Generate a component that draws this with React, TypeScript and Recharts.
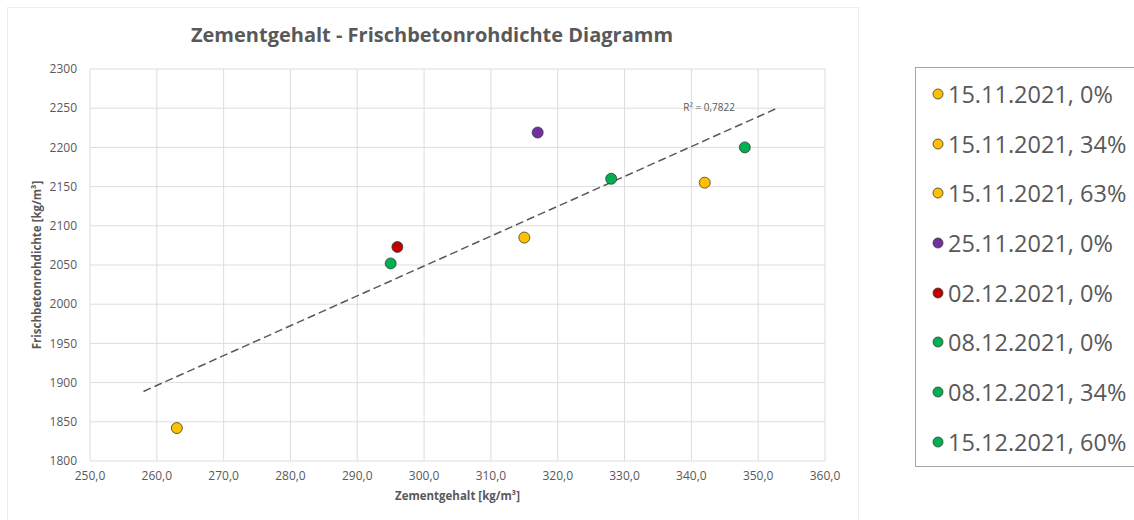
import React from 'react';
import {
  ScatterChart,
  Scatter,
  XAxis,
  YAxis,
  CartesianGrid,
  Legend,
  ReferenceDot,
  Label,
} from 'recharts';

// Measurement series: one point per mix (date, replacement share)
const seriesNames = [
  '15.11.2021, 0%',
  '15.11.2021, 34%',
  '15.11.2021, 63%',
  '25.11.2021, 0%',
  '02.12.2021, 0%',
  '08.12.2021, 0%',
  '08.12.2021, 34%',
  '15.12.2021, 60%',
];
const zementgehalt = [263, 315, 342, 317, 296, 295, 328, 348];
const rohdichte = [1842, 2085, 2155, 2219, 2073, 2052, 2160, 2200];
const seriesColors = [
  '#FFC000',
  '#FFC000',
  '#FFC000',
  '#7030A0',
  '#C00000',
  '#00B050',
  '#00B050',
  '#00B050',
];

const xTicks = [250, 260, 270, 280, 290, 300, 310, 320, 330, 340, 350, 360];
const yTicks = [1800, 1850, 1900, 1950, 2000, 2050, 2100, 2150, 2200, 2250, 2300];

// Linear trend (least squares), extended 5 units backward and forward
const trendRange = [258, 353];
const rSquaredText = 'R² = 0,7822';

const n = zementgehalt.length;
const meanX = zementgehalt.reduce((a, b) => a + b, 0) / n;
const meanY = rohdichte.reduce((a, b) => a + b, 0) / n;
let sxx = 0;
let sxy = 0;
for (let i = 0; i < n; i++) {
  sxx += (zementgehalt[i] - meanX) ** 2;
  sxy += (zementgehalt[i] - meanX) * (rohdichte[i] - meanY);
}
const slope = sxy / sxx;
const intercept = meanY - slope * meanX;
const trendData = trendRange.map((x) => ({ x, y: intercept + slope * x }));

const FONT = '"Open Sans", "Liberation Sans", sans-serif';
const TEXT = '#595959';

const fmtX = (v: number) => v.toFixed(1).replace('.', ',');

const makeDot = (color: string) => (props: any) => (
  <circle
    cx={props.cx}
    cy={props.cy}
    r={5.5}
    fill={color}
    stroke="#3a3a3a"
    strokeWidth={0.8}
  />
);

const LegendBox = () => (
  <div
    style={{
      boxSizing: 'border-box',
      width: 230,
      height: 400,
      border: '1px solid #a6a6a6',
      background: '#fff',
      paddingTop: 1,
      fontFamily: FONT,
    }}
  >
    {seriesNames.map((name, i) => (
      <div
        key={name}
        style={{
          display: 'flex',
          alignItems: 'center',
          height: 49.7,
          paddingLeft: 16,
        }}
      >
        <svg width={12} height={12} style={{ marginRight: 4 }}>
          <circle cx={6} cy={6} r={5} fill={seriesColors[i]} stroke="#3a3a3a" strokeWidth={0.8} />
        </svg>
        <span style={{ fontSize: 23.5, color: TEXT, whiteSpace: 'nowrap' }}>{name}</span>
      </div>
    ))}
  </div>
);

const YTitle = (props: any) => {
  const vb = props.viewBox || {};
  const cx = vb.x + 6;
  const cy = vb.y + vb.height / 2;
  return (
    <text
      x={cx}
      y={cy}
      transform={`rotate(-90, ${cx}, ${cy})`}
      textAnchor="middle"
      dominantBaseline="central"
      fontFamily={FONT}
      fontSize={11.5}
      fontWeight={700}
      fill={TEXT}
    >
      Frischbetonrohdichte [kg/m³]
    </text>
  );
};

const RLabel = (props: any) => {
  const vb = props.viewBox || {};
  return (
    <text x={vb.x - 95} y={vb.y + 3} fontFamily={FONT} fontSize={10} fill={TEXT}>
      {rSquaredText}
    </text>
  );
};

export default function App() {
  return (
    <div
      style={{
        position: 'absolute',
        left: 0,
        top: 0,
        width: 1134,
        height: 520,
        overflow: 'hidden',
        background: '#fff',
        fontFamily: FONT,
      }}
    >
      <div
        style={{
          position: 'absolute',
          left: 7,
          top: 7,
          width: 852,
          height: 520,
          border: '1px solid #ececec',
          boxSizing: 'border-box',
        }}
      />
      <div
        style={{
          position: 'absolute',
          left: 0,
          top: 22,
          width: 864,
          textAlign: 'center',
          fontSize: 20,
          lineHeight: '26px',
          fontWeight: 700,
          color: TEXT,
        }}
      >
        Zementgehalt - Frischbetonrohdichte Diagramm
      </div>
      <ScatterChart
        width={1134}
        height={520}
        margin={{ top: 69, right: 309, bottom: 29, left: 30 }}
      >
        <CartesianGrid stroke="#dddddd" strokeWidth={1} />
        <XAxis
          type="number"
          dataKey="x"
          domain={[250, 360]}
          ticks={xTicks}
          tickFormatter={fmtX}
          axisLine={false}
          tickLine={false}
          height={30}
          tickMargin={4}
          tick={{ fontSize: 12, fill: TEXT, fontFamily: FONT }}
          allowDataOverflow
        >
          <Label
            value="Zementgehalt [kg/m³]"
            position="bottom"
            offset={1}
            style={{ fontSize: 11.5, fontWeight: 700, fill: TEXT, fontFamily: FONT }}
          />
        </XAxis>
        <YAxis
          type="number"
          dataKey="y"
          domain={[1800, 2300]}
          ticks={yTicks}
          axisLine={false}
          tickLine={false}
          width={60}
          tickMargin={7}
          tick={{ fontSize: 12, fill: TEXT, fontFamily: FONT }}
          allowDataOverflow
        >
          <Label content={<YTitle />} />
        </YAxis>
        <Scatter
          name="Linear"
          data={trendData}
          line={{ stroke: '#595959', strokeWidth: 1.5, strokeDasharray: '8 4' }}
          shape={() => <g />}
          legendType="none"
          isAnimationActive={false}
        />
        {seriesNames.map((name, i) => (
          <Scatter
            key={name}
            name={name}
            data={[{ x: zementgehalt[i], y: rohdichte[i] }]}
            fill={seriesColors[i]}
            shape={makeDot(seriesColors[i])}
            isAnimationActive={false}
          />
        ))}
        <ReferenceDot
          x={trendData[1].x}
          y={trendData[1].y}
          r={0}
          fill="none"
          stroke="none"
          label={<RLabel />}
        />
        <Legend
          layout="horizontal"
          verticalAlign="middle"
          align="center"
          wrapperStyle={{ left: 915, top: 67, width: 230, height: 400 }}
          content={() => <LegendBox />}
        />
      </ScatterChart>
    </div>
  );
}
